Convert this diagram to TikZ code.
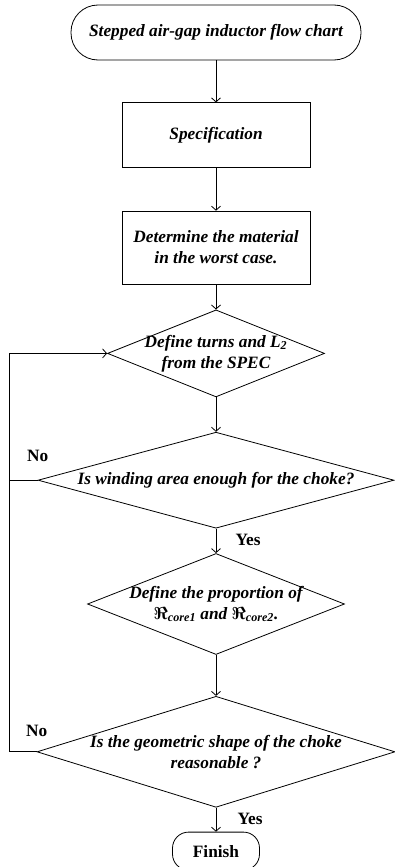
\documentclass[tikz,border=0pt]{standalone}
\usepackage{fontspec}
\setmainfont{Liberation Serif}
\usetikzlibrary{arrows.meta,positioning,shapes.geometric}

\begin{document}
\begin{tikzpicture}[x=1pt,y=1pt,line width=0.8pt,
    font=\fontsize{17.3}{21}\selectfont\bfseries\itshape,
    arrow/.style = {-{Straight Barb[length=4pt,width=9pt]}},
    term/.style = {draw, rectangle, rounded corners=#1, align=center, inner sep=0pt},
    box/.style = {draw, rectangle, minimum width=188pt, align=center, inner sep=0pt},
    cond/.style = {draw, diamond, aspect=#1, inner sep=-10pt, align=center},
    lbl/.style = {font=\fontsize{17.3}{21}\selectfont\bfseries}]
    \useasboundingbox (0,0) rectangle (395,-867);

    \node[term=27pt, minimum width=290pt, minimum height=55pt](start) at (216,-32.5)
        {Stepped air-gap inductor flow chart};
    \node[box, minimum height=65pt](spec)[below=42pt of start]{Specification};
    \node[box, minimum height=73pt](mat)[below=42.5pt of spec]
        {Determine the material\\in the worst case.};
    \node[cond=2.494, minimum width=217pt, minimum height=87pt](turns)[below=25pt of mat]
        {Define turns and L\textsubscript{2}\\from the SPEC};
    \node[cond=3.708, minimum width=356pt, minimum height=96pt](area)[below=34.5pt of turns]
        {Is winding area enough for the choke?};
    \node[cond=2.545, minimum width=257pt, minimum height=101pt](prop)[below=24.5pt of area]
        {Define the proportion of\\{\boldmath$\Re$}\textsubscript{core1} and {\boldmath$\Re$}\textsubscript{core2}.};
    \node[cond=3.225, minimum width=358pt, minimum height=111pt](shape)[below=41pt of prop]
        {Is the geometric shape of the choke\\reasonable ?};
    \node[term=16pt, lbl, draw, minimum width=87pt, minimum height=38pt](finish)[below=24pt of shape]
        {Finish};

    \coordinate (loop) at (9,-480);
    \node[lbl](no1) at ([yshift=24pt]area.west){No};
    \node[lbl](no2) at ([yshift=21pt]shape.west){No};
    \node[lbl](yes1) at ([xshift=32pt,yshift=-11pt]area.south){Yes};
    \node[lbl](yes2) at ([xshift=34pt,yshift=-11pt]shape.south){Yes};

    \draw[arrow] (start) -- (spec);
    \draw[arrow] (spec) -- (mat);
    \draw[arrow] (mat) -- (turns);
    \draw[arrow] (turns) -- (area);
    \draw[arrow] (area) -- (prop);
    \draw[arrow] (prop) -- (shape);
    \draw[arrow] (shape) -- (finish);
    \draw[arrow] (shape.west) -- (shape.west -| loop) |- (turns.west);
    \draw (area.west) -- (area.west -| loop);
\end{tikzpicture}
\end{document}
